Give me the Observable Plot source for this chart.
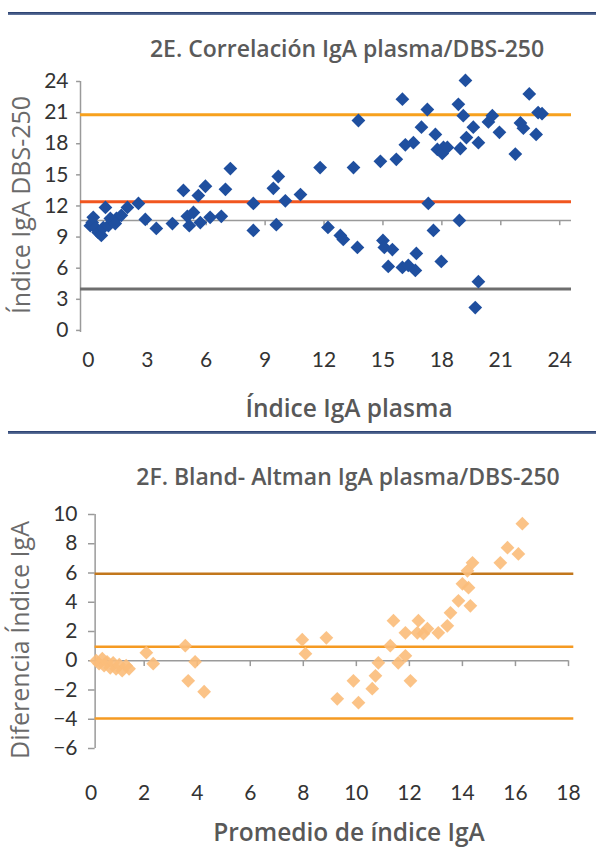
<!DOCTYPE html>
<html>
<head>
<meta charset="utf-8">
<script src="https://cdn.jsdelivr.net/npm/d3@7"></script>
<script src="https://cdn.jsdelivr.net/npm/@observablehq/plot@0.6"></script>
<style>
  html, body { margin: 0; padding: 0; background: #fff; }
  #root { position: relative; width: 596px; height: 851px; overflow: hidden; background: #fff; font-family: "Open Sans", Lato, sans-serif; }
  .chart { position: absolute; left: 0; }
  .hr { position: absolute; left: 8px; width: 588px; height: 3px; background: linear-gradient(#22396a, #6a7da3); }
  .txt { position: absolute; white-space: nowrap; line-height: 1; transform: translate(-50%, -50%); }
  .title { font-weight: 600; font-size: 23px; color: #5a5a5a; }
  .xlab { font-weight: 600; font-size: 24.5px; color: #585858; }
  .ylab { font-weight: 400; font-size: 25px; color: #6a6a6a; transform: translate(-50%, -50%) rotate(-90deg); }
</style>
</head>
<body>
<div id="root">
  <div id="p1" class="chart" style="top:0px"></div>
  <div id="p2" class="chart" style="top:430px"></div>
  <div class="hr" style="top:12px"></div>
  <div class="txt title" style="left:347px; top:48px">2E. Correlación IgA plasma/DBS-250</div>
  <div class="txt xlab" style="left:349px; top:408px">Índice IgA plasma</div>
  <div class="txt ylab" style="left:20px; top:205px">Índice IgA DBS-250</div>
  <div class="hr" style="top:431px"></div>
  <div class="txt title" style="left:348px; top:476px">2F. Bland- Altman IgA plasma/DBS-250</div>
  <div class="txt xlab" style="left:349px; top:832px">Promedio de índice IgA</div>
  <div class="txt ylab" style="left:19px; top:640px">Diferencia Índice IgA</div>
</div>
<script>
// ---- Panel 2E: correlation plasma vs DBS-250 ----
const plasmaIgA = [
  0.1, 0.2, 0.25, 0.36, 0.5, 0.66, 0.76, 0.87, 1.02, 1.12,
  1.43, 1.37, 1.68, 1.99, 2.55, 2.9, 3.46, 4.28, 4.84, 5.04,
  5.35, 5.14, 5.6, 5.96, 5.7, 6.2, 6.77, 6.98, 7.23, 8.4,
  8.4, 9.42, 9.67, 9.57, 10.03, 10.8, 11.8, 12.2, 12.83, 12.98,
  13.5, 13.7, 13.75, 14.87, 15.0, 15.07, 15.48, 15.27, 15.68, 15.99,
  15.99, 16.14, 16.29, 16.55, 16.65, 16.7, 16.96, 17.26, 17.31, 17.57,
  17.67, 17.77, 18.08, 18.02, 18.28, 17.97, 18.94, 18.84, 18.89, 19.09,
  19.2, 19.25, 19.6, 19.86, 19.7, 19.86, 20.37, 20.57, 20.93, 21.74,
  22.0, 22.15, 22.45, 22.8, 22.9, 23.1
];
const dbsIgA = [
  10.1, 10.4, 10.9, 9.9, 9.45, 9.16, 9.9, 11.86, 10.1, 10.8,
  10.8, 10.3, 11.1, 11.86, 12.24, 10.7, 9.83, 10.3, 13.5, 11.0,
  11.37, 10.1, 13.0, 13.9, 10.4, 10.9, 11.0, 13.6, 15.6, 12.24,
  9.64, 13.7, 14.84, 10.2, 12.5, 13.1, 15.7, 9.93, 9.16, 8.77,
  15.7, 8.0, 20.24, 16.3, 8.67, 8.0, 7.8, 6.17, 16.5, 22.3,
  6.07, 17.9, 6.27, 18.1, 5.78, 7.42, 19.6, 21.3, 12.24, 9.64,
  18.9, 17.45, 17.64, 17.06, 17.64, 6.65, 17.54, 21.8, 10.6, 20.7,
  24.1, 18.6, 19.6, 18.1, 2.2, 4.7, 20.1, 20.7, 19.1, 17.0,
  20.0, 19.5, 22.8, 18.9, 21.0, 20.9
];
const corrLineValues = [20.8, 12.4, 4.0];
const corrLineColors = ["#f7a11d", "#f1561f", "#6e6e6e"];
const xTicks1 = [0, 3, 6, 9, 12, 15, 18, 21, 24];
const yTicks1 = [0, 3, 6, 9, 12, 15, 18, 21, 24];
const xAxisCross1 = 10.6;

// ---- Panel 2F: Bland-Altman ----
const meanIgA = [
  0.19, 0.3, 0.42, 0.49, 0.6, 0.72, 0.83, 0.94, 1.06, 1.17,
  1.32, 1.43, 2.08, 2.34, 3.55, 3.92, 3.66, 4.26, 7.96, 8.08,
  8.87, 9.28, 9.89, 10.08, 10.6, 10.72, 10.83, 11.28, 11.4, 11.58,
  11.85, 11.85, 12.04, 12.34, 12.3, 12.53, 12.68, 13.09, 13.43, 13.55,
  13.85, 14.3, 14.0, 14.23, 14.19, 14.38, 15.43, 15.7, 16.11, 16.26
];
const diffIgA = [
  0, -0.2, 0.14, -0.34, -0.07, -0.48, -0.14, -0.55, -0.27, -0.68,
  -0.34, -0.55, 0.55, -0.2, 1.03, -0.07, -1.37, -2.12, 1.44, 0.48,
  1.57, -2.6, -1.37, -2.87, -1.91, -1.03, -0.14, 1.03, 2.74, -0.14,
  0.34, 1.91, -1.37, 2.74, 1.91, 1.85, 2.19, 1.91, 2.39, 3.28,
  4.1, 3.76, 5.26, 5.0, 6.15, 6.7, 6.7, 7.73, 7.3, 9.37
];
const baLineValues = [5.95, 0.95, -3.95];
const baLineColors = ["#c2771c", "#f59a22", "#f59a22"];
const xTicks2 = [0, 2, 4, 6, 8, 10, 12, 14, 16, 18];
const yTicks2 = [-6, -4, -2, 0, 2, 4, 6, 8, 10];

const axisGray = "#9a9a9a";
const tickFont = "Lato, 'Open Sans', sans-serif";

// ---------- Chart 1 ----------
const pts1 = plasmaIgA.map((x, i) => ({x, y: dbsIgA[i]}));
const p1 = Plot.plot({
  width: 596, height: 430,
  marginTop: 81, marginBottom: 98, marginLeft: 80, marginRight: 25,
  style: {background: "transparent", fontFamily: tickFont, fontSize: "21px", color: "#333", overflow: "visible"},
  x: {domain: [-0.4, 24.6]},
  y: {domain: [-0.2, 24]},
  marks: [
    Plot.axisX({ticks: xTicks1, tickSize: 0, tickPadding: 20, label: null, fontSize: 21}),
    Plot.axisY({ticks: yTicks1, tickSize: 0, tickPadding: 12, label: null, fontSize: 21}),
    Plot.ruleX([-0.4], {y1: -0.2, y2: 24, stroke: axisGray, strokeWidth: 1.5}),
    Plot.ruleY(yTicks1, {y: d => d, x1: -0.6, x2: -0.4, stroke: axisGray, strokeWidth: 1.5}),
    Plot.ruleY([xAxisCross1], {y: d => d, x1: -0.4, x2: 24.6, stroke: axisGray, strokeWidth: 1.5}),
    Plot.ruleX(xTicks1.filter(d => d > 0), {x: d => d, y1: xAxisCross1, y2: xAxisCross1 - 0.5, stroke: axisGray, strokeWidth: 1.5}),
    ...corrLineValues.map((v, i) => Plot.ruleY([v], {y: d => d, x1: -0.4, x2: 24.6, stroke: corrLineColors[i], strokeWidth: 3})),
    Plot.dot(pts1, {x: "x", y: "y", symbol: "diamond2", r: 6.2, fill: "#1f4f9f", stroke: "none"})
  ]
});
document.getElementById("p1").appendChild(p1);

// ---------- Chart 2 ----------
const pts2 = meanIgA.map((x, i) => ({x, y: diffIgA[i]}));
const p2 = Plot.plot({
  width: 596, height: 421,
  marginTop: 84, marginBottom: 103, marginLeft: 88, marginRight: 28,
  style: {background: "transparent", fontFamily: tickFont, fontSize: "21px", color: "#333", overflow: "visible"},
  x: {domain: [-0.1, 18]},
  y: {domain: [-6, 10]},
  marks: [
    Plot.axisX({ticks: xTicks2, tickSize: 0, tickPadding: 37, label: null, fontSize: 21}),
    Plot.axisY({ticks: yTicks2, tickSize: 0, tickPadding: 11, label: null, fontSize: 21}),
    Plot.ruleX([0.15], {x: d => d, y1: -6, y2: 10, stroke: axisGray, strokeWidth: 1.5}),
    Plot.ruleY(yTicks2, {y: d => d, x1: -0.1, x2: 0.15, stroke: axisGray, strokeWidth: 1.5}),
    Plot.ruleY([0], {y: d => d, x1: 0.15, x2: 18, stroke: axisGray, strokeWidth: 1.5}),
    Plot.ruleX(xTicks2.filter(d => d > 0), {x: d => d, y1: 0, y2: -0.4, stroke: axisGray, strokeWidth: 1.5}),
    ...baLineValues.map((v, i) => Plot.ruleY([v], {y: d => d, x1: 0.15, x2: 18.2, stroke: baLineColors[i], strokeWidth: 2.5})),
    Plot.dot(pts2, {x: "x", y: "y", symbol: "diamond2", r: 6.2, fill: "#fbbd7a", fillOpacity: 0.9, stroke: "none"})
  ]
});
document.getElementById("p2").appendChild(p2);
</script>
</body>
</html>
